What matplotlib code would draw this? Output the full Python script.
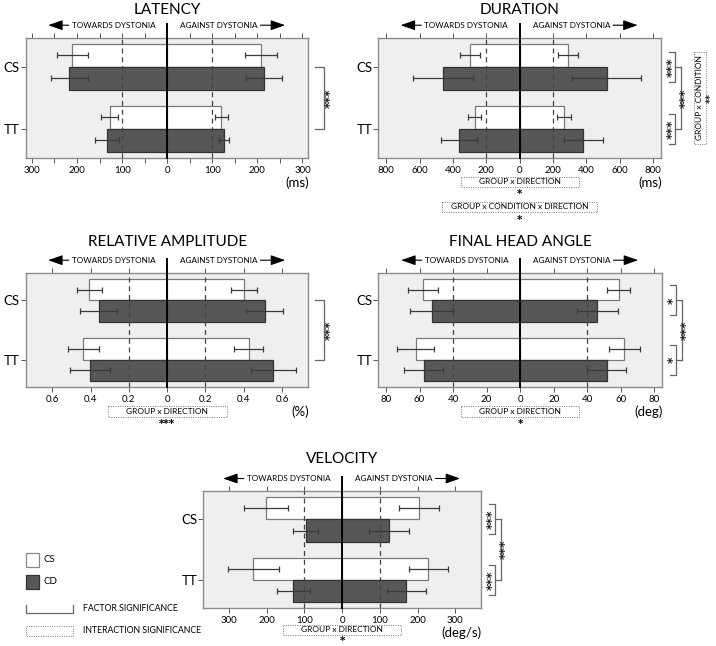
import numpy as np
import matplotlib.pyplot as plt
from matplotlib.patches import Rectangle
from matplotlib.ticker import MultipleLocator, FuncFormatter

plt.rcParams['font.family'] = ['Lato', 'DejaVu Sans']

# y categories (condition) and groups (white = CS, dark = CD)
conditions = ['CS', 'TT']
groups = ['CS', 'CD']

# LATENCY (ms), one value per condition [CS, TT]
lat_towards_cs = [210, 127]
lat_towards_cd = [217, 133]
lat_against_cs = [208, 120]
lat_against_cd = [214, 126]
lat_towards_cs_sd = [35, 19]
lat_towards_cd_sd = [41, 27]
lat_against_cs_sd = [36, 15]
lat_against_cd_sd = [40, 11]

# DURATION (ms)
dur_towards_cs = [296, 268]
dur_towards_cd = [457, 362]
dur_against_cs = [292, 268]
dur_against_cd = [522, 382]
dur_towards_cs_sd = [60, 39]
dur_towards_cd_sd = [180, 107]
dur_against_cs_sd = [60, 43]
dur_against_cd_sd = [207, 117]

# RELATIVE AMPLITUDE (%)
amp_towards_cs = [0.406, 0.437]
amp_towards_cd = [0.357, 0.402]
amp_against_cs = [0.402, 0.425]
amp_against_cd = [0.509, 0.555]
amp_towards_cs_sd = [0.065, 0.081]
amp_towards_cd_sd = [0.097, 0.106]
amp_against_cs_sd = [0.068, 0.076]
amp_against_cd_sd = [0.098, 0.116]

# FINAL HEAD ANGLE (deg)
fha_towards_cs = [57.9, 62.4]
fha_towards_cd = [52.8, 57.6]
fha_against_cs = [58.9, 62.2]
fha_against_cd = [46.0, 51.7]
fha_towards_cs_sd = [8.7, 11.2]
fha_towards_cd_sd = [12.8, 11.5]
fha_against_cs_sd = [6.9, 9.2]
fha_against_cd_sd = [12.1, 11.7]

# VELOCITY (deg/s)
vel_towards_cs = [202, 235]
vel_towards_cd = [96, 129]
vel_against_cs = [203, 228]
vel_against_cd = [125, 170]
vel_towards_cs_sd = [58, 68]
vel_towards_cd_sd = [33, 43]
vel_against_cs_sd = [53, 52]
vel_against_cd_sd = [53, 52]

W, H = 716, 646
fig = plt.figure(figsize=(W / 100, H / 100), dpi=100)
ov = fig.add_axes([0, 0, 1, 1], zorder=10)
ov.set_xlim(0, W)
ov.set_ylim(H, 0)
ov.axis('off')

YLIM = (-0.47, 1.47)
BAR_H = 0.37
WHITE_EC = '#7a7a7a'
DARK = '#575757'
DARK_EC = '#333333'
ERR_C = '#3a3a3a'
DOT = (0, (1, 1.4))


def stars_text(x, y, s, size=9, ha='center'):
    ov.text(x, y, s, rotation=90, ha=ha, va='center', fontsize=size,
            family='DejaVu Sans', fontweight='bold', color='#222')


def panel(box, title, title_y, tow_cs, tow_cd, ag_cs, ag_cd,
          tow_cs_sd, tow_cd_sd, ag_cs_sd, ag_cd_sd,
          lim, major, ref, unit, minor=None, group_stars=None, cond_stars=None,
          side_inter=None, bottom_inter=(), bottom_gap=18.5):
    x0, y0, x1, y1 = box
    ax = fig.add_axes([x0 / W, 1 - y1 / H, (x1 - x0) / W, (y1 - y0) / H])
    ax.set_facecolor('#efefef')
    ypos = np.arange(len(conditions))[::-1].astype(float)

    yw = ypos + BAR_H / 2
    yd = ypos - BAR_H / 2
    ax.barh(yw, -np.array(tow_cs), BAR_H, color='white', edgecolor=WHITE_EC, lw=0.9, zorder=2)
    ax.barh(yw, ag_cs, BAR_H, color='white', edgecolor=WHITE_EC, lw=0.9, zorder=2)
    ax.barh(yd, -np.array(tow_cd), BAR_H, color=DARK, edgecolor=DARK_EC, lw=0.9, zorder=2)
    ax.barh(yd, ag_cd, BAR_H, color=DARK, edgecolor=DARK_EC, lw=0.9, zorder=2)

    ekw = dict(fmt='none', ecolor=ERR_C, elinewidth=0.9, capsize=2, capthick=0.9, zorder=4)
    ax.errorbar(-np.array(tow_cs), yw, xerr=tow_cs_sd, **ekw)
    ax.errorbar(ag_cs, yw, xerr=ag_cs_sd, **ekw)
    ax.errorbar(-np.array(tow_cd), yd, xerr=tow_cd_sd, **ekw)
    ax.errorbar(ag_cd, yd, xerr=ag_cd_sd, **ekw)

    for r in (-ref, ref):
        ax.axvline(r, color='#444', lw=0.9, ls=(0, (4, 3)), zorder=3)
    ax.axvline(0, ymin=0, ymax=1 + 14 / (y1 - y0), color='black', lw=1.4,
               clip_on=False, zorder=5)

    ax.set_xlim(-lim, lim)
    ax.set_ylim(*YLIM)
    ax.xaxis.set_major_locator(MultipleLocator(major))
    if minor:
        ax.xaxis.set_minor_locator(MultipleLocator(minor))
    ax.xaxis.set_major_formatter(FuncFormatter(lambda v, p: f'{abs(round(v, 3)):g}'))
    ax.tick_params(axis='x', which='both', top=True, bottom=True, direction='out',
                   length=3.5, width=0.7, color='#555', labelsize=7, pad=2)
    ax.set_yticks(ypos, conditions)
    ax.tick_params(axis='y', length=3.5, width=0.7, color='#555', labelsize=9.5, pad=1)
    for sp in ax.spines.values():
        sp.set_color('#8c8c8c')
        sp.set_linewidth(1)

    cx = (x0 + x1) / 2
    ov.text(cx, title_y, title, ha='center', va='center', fontsize=11)
    ay = y0 - 12.5
    akw = dict(arrowstyle='-|>,head_length=0.8,head_width=0.28', color='black',
               lw=0.8, mutation_scale=11, shrinkA=0, shrinkB=0)
    ov.annotate('TOWARDS DYSTONIA', xy=(cx - 119, ay), xytext=(cx - 12, ay),
                ha='right', va='center', fontsize=5.9, arrowprops=akw)
    ov.annotate('AGAINST DYSTONIA', xy=(cx + 118, ay), xytext=(cx + 13, ay),
                ha='left', va='center', fontsize=5.9, arrowprops=akw)
    ov.text(x1 + 1, y1 + 24.5, unit, ha='right', va='center', fontsize=9.5)

    def ypx(v):
        return y0 + (YLIM[1] - v) / (YLIM[1] - YLIM[0]) * (y1 - y0)

    ycs, ytt = ypx(ypos[0]), ypx(ypos[1])
    lkw = dict(color='#666', lw=0.9)
    if group_stars:
        for yc, s in zip((ycs, ytt), group_stars):
            ov.plot([x1 + 8, x1 + 14, x1 + 14, x1 + 8], [yc - 15, yc - 15, yc + 15, yc + 15], **lkw)
            ov.plot([x1 + 14, x1 + 19.5], [yc, yc], **lkw)
            stars_text(x1 + 11, yc, s)
        ov.plot([x1 + 19.5, x1 + 19.5], [ycs, ytt], **lkw)
        stars_text(x1 + 24, (ycs + ytt) / 2, cond_stars)
    elif cond_stars:
        ov.plot([x1 + 7, x1 + 16, x1 + 16, x1 + 7], [ycs, ycs, ytt, ytt], **lkw)
        stars_text(x1 + 22, (ycs + ytt) / 2, cond_stars)
    if side_inter:
        label, s = side_inter
        ov.add_patch(Rectangle((x1 + 33, ycs - 15), 11.5, ytt - ycs + 30.5, fill=False,
                               ec='#777', lw=0.7, ls=DOT))
        ov.text(x1 + 38.75, (ycs + ytt) / 2, label, rotation=90, ha='center', va='center',
                fontsize=6)
        stars_text(W - 0.6, (ycs + ytt) / 2, s, size=7, ha='right')

    yb = y1 + bottom_gap
    for label, s, wbox in bottom_inter:
        ov.add_patch(Rectangle((cx - wbox / 2, yb), wbox, 10.7, fill=False,
                               ec='#777', lw=0.7, ls=DOT))
        ov.text(cx, yb + 5.4, label, ha='center', va='center', fontsize=6)
        ov.text(cx, min(yb + 18, H - 5.4), s, ha='center', va='center', fontsize=7.5,
                family='DejaVu Sans', fontweight='bold')
        yb += 25
    return ax


panel((26, 37.7, 308.3, 158), 'LATENCY', 10,
      lat_towards_cs, lat_towards_cd, lat_against_cs, lat_against_cd,
      lat_towards_cs_sd, lat_towards_cd_sd, lat_against_cs_sd, lat_against_cd_sd,
      313, 100, 100, '(ms)', minor=50, cond_stars='***')

panel((378.3, 37.7, 661, 158), 'DURATION', 10,
      dur_towards_cs, dur_towards_cd, dur_against_cs, dur_against_cd,
      dur_towards_cs_sd, dur_towards_cd_sd, dur_against_cs_sd, dur_against_cd_sd,
      848, 200, 200, '(ms)', group_stars=['***', '***'], cond_stars='***',
      side_inter=('GROUP x CONDITION', '**'),
      bottom_inter=[('GROUP x DIRECTION', '*', 118),
                    ('GROUP x CONDITION x DIRECTION', '*', 155)])

panel((26, 272.7, 308.3, 387.3), 'RELATIVE AMPLITUDE', 241.7,
      amp_towards_cs, amp_towards_cd, amp_against_cs, amp_against_cd,
      amp_towards_cs_sd, amp_towards_cd_sd, amp_against_cs_sd, amp_against_cd_sd,
      0.737, 0.2, 0.2, '(%)', cond_stars='***',
      bottom_inter=[('GROUP x DIRECTION', '***', 119)])

panel((378.3, 272.7, 662, 387.3), 'FINAL HEAD ANGLE', 241.7,
      fha_towards_cs, fha_towards_cd, fha_against_cs, fha_against_cd,
      fha_towards_cs_sd, fha_towards_cd_sd, fha_against_cs_sd, fha_against_cd_sd,
      84.6, 20, 40, '(deg)', group_stars=['*', '*'], cond_stars='***',
      bottom_inter=[('GROUP x DIRECTION', '*', 118)])

panel((203.3, 491, 481, 608.3), 'VELOCITY', 459,
      vel_towards_cs, vel_towards_cd, vel_against_cs, vel_against_cd,
      vel_towards_cs_sd, vel_towards_cd_sd, vel_against_cs_sd, vel_against_cd_sd,
      368, 100, 100, '(deg/s)', group_stars=['***', '***'], cond_stars='***',
      bottom_inter=[('GROUP x DIRECTION', '*', 118)], bottom_gap=16.3)

# legend
ov.add_patch(Rectangle((26, 553.3), 13.3, 13.4, fc='white', ec='#888', lw=0.9))
ov.add_patch(Rectangle((26, 575.3), 13.3, 13.4, fc=DARK, ec=DARK_EC, lw=0.9))
ov.text(43.5, 560, groups[0], ha='left', va='center', fontsize=7)
ov.text(43.5, 582, groups[1], ha='left', va='center', fontsize=7)
ov.plot([26, 26, 73.3, 73.3], [605, 613.3, 613.3, 605], color='#666', lw=0.9)
ov.text(82.7, 608.7, 'FACTOR SIGNIFICANCE', ha='left', va='center', fontsize=6.3)
ov.add_patch(Rectangle((26, 626), 47.3, 10, fill=False, ec='#777', lw=0.7, ls=DOT))
ov.text(82.7, 630.7, 'INTERACTION SIGNIFICANCE', ha='left', va='center', fontsize=6.3)

fig.savefig('out.png', dpi=100)
